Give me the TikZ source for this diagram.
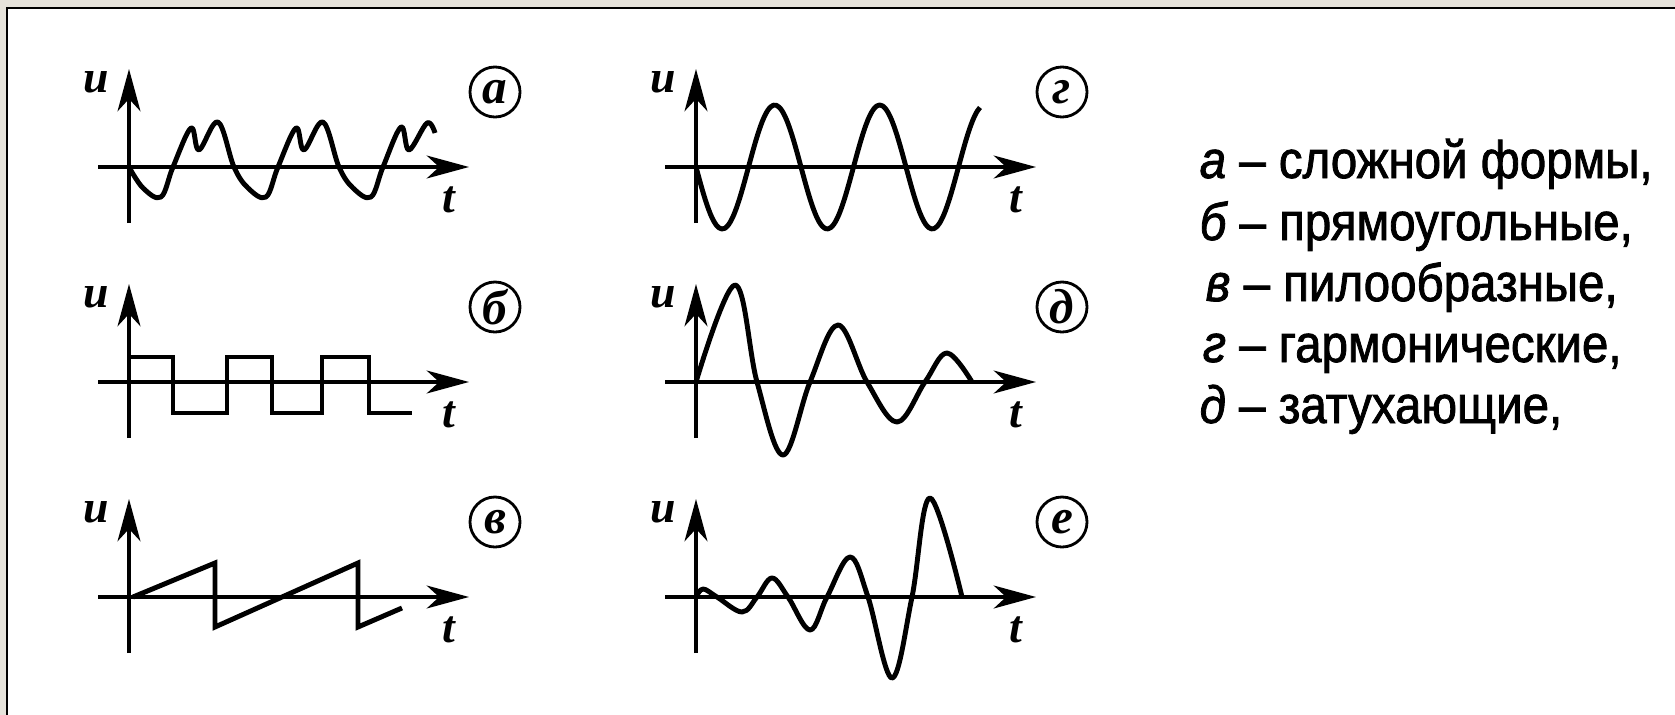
\documentclass[tikz,border=0pt]{standalone}
\usepackage{fontspec}
\setmainfont{Liberation Serif}
\newfontfamily\legendfont[FakeStretch=0.9, FakeBold=1.5]{Liberation Sans}
\usetikzlibrary{arrows.meta, calc}
\definecolor{slidebg}{HTML}{E6E3DB}

\begin{document}
\begin{tikzpicture}[
    x=0.01cm, y=-0.01cm,
    >={Stealth[length=12pt, width=6.5pt, inset=3.5pt]}, % lange schmale Pfeilspitzen
    axis/.style={line width=1.1pt},
    wave/.style={line width=1.4pt, line join=round},
    axlabel/.style={inner sep=0pt, font={\bfseries\itshape\fontsize{13}{13}\selectfont}},
    tag/.style={draw, circle, line width=0.8pt, minimum size=0.5cm, inner sep=0pt, font={\bfseries\itshape\fontsize{14}{14}\selectfont}},
    legend/.style={anchor=base west, inner sep=0pt, font={\legendfont\fontsize{15}{18}\selectfont}}
]

% Rahmen (Folie)
\useasboundingbox (0,0) rectangle (1675,715);
\fill[slidebg] (0,0) rectangle (1675,715);
\fill[white] (7,8) rectangle (1675,715);
\draw[line width=0.8pt] (7,715) -- (7,8) -- (1675,8);

% Ursprünge der sechs Diagramme
\coordinate (Oa) at (129,167);
\coordinate (Ob) at (129,382);
\coordinate (Oc) at (129,597);
\coordinate (Og) at (696,167);
\coordinate (Od) at (696,382);
\coordinate (Oe) at (696,597);

% Achsen, Beschriftungen und Kennbuchstaben
\foreach \o/\l in {Oa/а, Ob/б, Oc/в, Og/г, Od/д, Oe/е} {
    \draw[axis,->] ($(\o)+(0,56)$) -- ($(\o)+(0,-98)$);
    \draw[axis,->] ($(\o)+(-31,0)$) -- ($(\o)+(340,0)$);
    \node[axlabel] (u\o) at ($(\o)+(-33,-85)$) {u};
    \node[axlabel] (t\o) at ($(\o)+(320,33)$) {t};
    \node[tag] (tag\o) at ($(\o)+(366,-75)$) {\l};
}

% --- Linke Spalte ---

% a: komplexe Form
\draw[wave, shift={(Oa)}] plot[smooth, tension=0.6] coordinates {(0,0) (14,21) (32,30) (44,0) (62,-39) (70,-17) (89,-45) (105,0) (119,21) (137,30) (149,0) (167,-39) (175,-17) (194,-45) (210,0) (224,21) (242,30) (254,0) (272,-40) (280,-17) (298,-44) (306,-34)};

% b: Rechteck
\draw[wave, line join=miter, shift={(Ob)}] (0,-25) -- (44,-25) -- (44,31) -- (98,31) -- (98,-25) -- (143,-25) -- (143,31) -- (193,31) -- (193,-25) -- (240,-25) -- (240,31) -- (283,31);

% c: Sägezahn
\draw[wave, line join=miter, shift={(Oc)}] (4,0) -- (86,-34) -- (86,30) -- (229,-34) -- (229,30) -- (273,11);

% --- Rechte Spalte ---

% harmonisch
\draw[wave, shift={(Og)}] plot[domain=0:284, samples=100, smooth] (\x, {62*sin(3.4286*\x)});

% gedämpft
\draw[wave, shift={(Od)}] plot[smooth, tension=0.6] coordinates {(0,0) (39,-97) (61,0) (87,73) (114,0) (142,-57) (171,0) (201,40) (229,0) (251,-29) (276,0)};

% anwachsend
\draw[wave, shift={(Oe)}] plot[smooth, tension=0.6] coordinates {(0,0) (7,-8) (21,0) (46,15) (61,0) (76,-19) (92,0) (114,33) (131,0) (154,-40) (172,0) (196,81) (216,0) (234,-99) (266,0)};

% Legende
\node[legend] (la) at (1199,178) {{\itshape а} – сложной формы,};
\node[legend] (lb) at (1199,240) {{\itshape б} – прямоугольные,};
\node[legend] (lc) at (1205,301) {{\itshape в} – пилообразные,};
\node[legend] (lg) at (1202,362) {{\itshape г} – гармонические,};
\node[legend] (ld) at (1199,423) {{\itshape д} – затухающие,};

\end{tikzpicture}
\end{document}
